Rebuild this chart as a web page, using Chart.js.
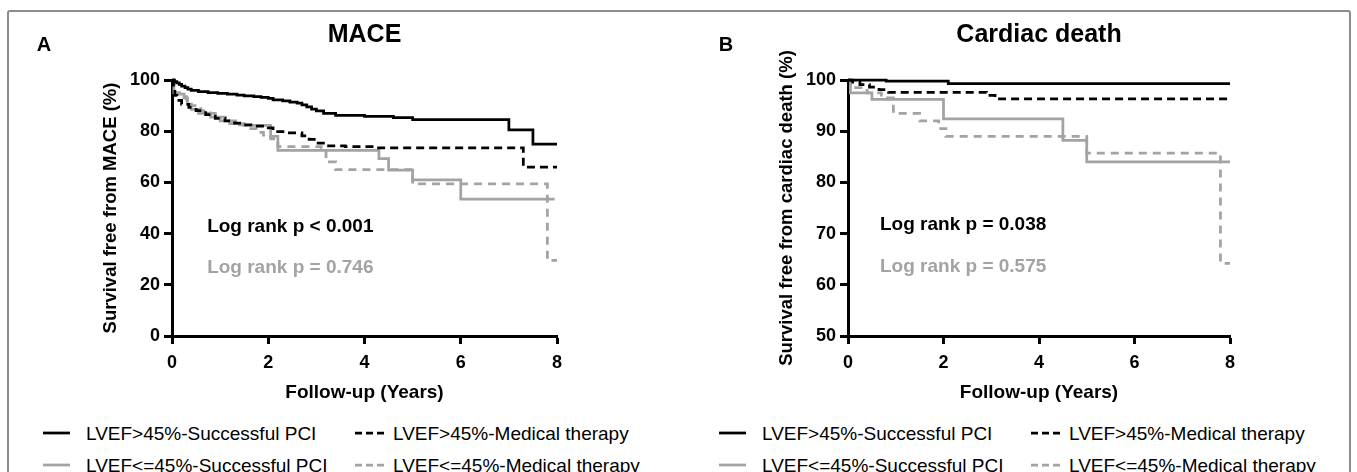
<!DOCTYPE html>
<html>
<head>
<meta charset="utf-8">
<script src="https://cdn.jsdelivr.net/npm/chart.js@4.4.0/dist/chart.umd.min.js"></script>
<style>
  html, body { margin: 0; padding: 0; background: #fff; width: 1357px; height: 472px; overflow: hidden; }
  body { position: relative; font-family: "Liberation Sans", Arial, sans-serif; }
  .frame { position: absolute; left: 7px; top: 10px; width: 1344px; height: 520px; box-sizing: border-box; border: 2px solid #8c8c8c; border-radius: 3px; }
  canvas { position: absolute; top: 0; }
  #chartA { left: 0; }
  #chartB { left: 676px; }
  .lg-sample { position: absolute; }
  .lg-text { position: absolute; font-size: 19px; line-height: 1; color: #000; white-space: nowrap; transform: translateY(-50%); }
</style>
</head>
<body>
<div class="frame"></div>
<canvas id="chartA" width="676" height="410"></canvas>
<canvas id="chartB" width="681" height="410"></canvas>
<div id="legendA"></div>
<div id="legendB"></div>
<script>
// series names, shared by both panels
const seriesLabels = [
  'LVEF>45%-Successful PCI',
  'LVEF>45%-Medical therapy',
  'LVEF<=45%-Successful PCI',
  'LVEF<=45%-Medical therapy'
];

// Panel A - MACE (years, survival %)
const maceYearsHiPci = [0, 0.05, 0.1, 0.15, 0.2, 0.27, 0.33, 0.4, 0.55, 0.75, 0.95, 1.15, 1.35, 1.5, 1.7, 1.85, 2.0, 2.1, 2.3, 2.45, 2.6, 2.7, 2.8, 2.9, 3.0, 3.15, 3.4, 4.0, 4.6, 5.0, 7.0, 7.5, 8.0];
const maceSurvHiPci  = [100, 99.4, 98.9, 98.3, 97.6, 97, 96.4, 95.9, 95.5, 95.1, 94.8, 94.5, 94.1, 93.8, 93.5, 93.2, 92.8, 92.2, 91.8, 91.4, 91.0, 90.3, 89.5, 88.6, 87.9, 87.0, 86.2, 85.8, 85.3, 84.5, 80.5, 75, 75];
const maceYearsHiMed = [0, 0.03, 0.06, 0.1, 0.2, 0.35, 0.5, 0.7, 0.9, 1.1, 1.3, 1.5, 1.7, 2.0, 2.1, 2.4, 2.7, 2.85, 3.0, 3.2, 3.6, 4.2, 7.3, 8.0];
const maceSurvHiMed  = [100, 97, 94, 92, 90.5, 89.3, 88, 86.5, 85, 84, 83.2, 82.5, 82, 81.3, 79.8, 79.3, 78.2, 76.8, 75.3, 74.3, 74, 73.5, 66, 66];
const maceYearsLoPci = [0, 0.04, 0.15, 0.25, 0.32, 0.4, 0.55, 0.8, 1.0, 1.2, 1.5, 2.05, 2.2, 4.3, 4.5, 5.0, 6.0, 7.95];
const maceSurvLoPci  = [100, 95, 94.5, 93, 90.5, 88.5, 87, 85.5, 84, 83, 82.3, 78, 72.5, 69.3, 64.8, 61, 53.5, 53.5];
const maceYearsLoMed = [0, 0.05, 0.2, 0.3, 0.4, 0.6, 0.8, 1.0, 1.2, 1.4, 1.6, 1.75, 1.9, 2.05, 2.2, 3.1, 3.2, 3.4, 5.0, 7.8, 8.0];
const maceSurvLoMed  = [100, 95, 93.5, 92.5, 90, 88, 87, 85.5, 84, 82.5, 81, 79.5, 78.5, 77, 74, 73.3, 68, 65, 59.4, 29.5, 29.5];
const maceLogRank = ['Log rank p < 0.001', 'Log rank p = 0.746'];

// Panel B - cardiac death
const cdYearsHiPci = [0, 0.8, 2.1, 8.0];
const cdSurvHiPci  = [100, 99.8, 99.3, 99.3];
const cdYearsHiMed = [0, 0.1, 0.25, 0.45, 0.65, 0.85, 2.9, 3.08, 8.0];
const cdSurvHiMed  = [100, 99.6, 99.1, 98.6, 98.1, 97.6, 97, 96.3, 96.3];
const cdYearsLoPci = [0, 0.05, 0.5, 2.0, 4.5, 5.0, 8.0];
const cdSurvLoPci  = [100, 97.5, 96.2, 92.4, 88.2, 84, 84];
const cdYearsLoMed = [0, 0.05, 0.4, 0.7, 0.95, 1.5, 1.9, 2.05, 5.0, 7.8, 8.0];
const cdSurvLoMed  = [100, 98.5, 97.5, 96.5, 93.5, 92, 90.5, 89, 85.7, 64.2, 64.2];
const cdLogRank = ['Log rank p = 0.038', 'Log rank p = 0.575'];

const FONT = '"Liberation Sans", Arial, sans-serif';
const BLACK = '#000000';
const GREY = '#a3a3a3';
const lineStyles = [
  { color: BLACK, dash: [] },
  { color: BLACK, dash: [8, 5] },
  { color: GREY, dash: [] },
  { color: GREY, dash: [8, 6] }
];

// letter, rotated y title and the log rank notes
const panelText = {
  id: 'panelText',
  afterDraw(chart, args, o) {
    const { ctx, chartArea, scales } = chart;
    ctx.save();
    ctx.fillStyle = BLACK;
    ctx.textAlign = 'center';
    ctx.textBaseline = 'middle';
    ctx.font = 'bold 20px ' + FONT;
    ctx.fillText(o.letter, o.letterX, o.letterY);
    ctx.font = 'bold 18.5px ' + FONT;
    ctx.translate(o.yTitleX, (chartArea.top + chartArea.bottom) / 2);
    ctx.rotate(-Math.PI / 2);
    ctx.fillText(o.yTitle, 0, 0);
    ctx.restore();

    ctx.save();
    ctx.font = 'bold 19px ' + FONT;
    ctx.textAlign = 'left';
    ctx.textBaseline = 'middle';
    o.notes.forEach((n, i) => {
      ctx.fillStyle = i === 0 ? BLACK : GREY;
      ctx.fillText(n, scales.x.getPixelForValue(o.noteX), scales.y.getPixelForValue(o.noteY[i]));
    });
    ctx.restore();
  }
};

function axisStyle() {
  return {
    grid: { display: true, drawOnChartArea: false, drawTicks: true, tickLength: 8, tickWidth: 3, tickColor: BLACK },
    border: { display: true, color: BLACK, width: 3 }
  };
}

function buildChart(id, cfg) {
  const datasets = cfg.series.map((s, i) => ({
    label: seriesLabels[i],
    data: s[0].map((t, k) => ({ x: t, y: s[1][k] })),
    borderColor: lineStyles[i].color,
    borderDash: lineStyles[i].dash,
    borderWidth: 2.75,
    stepped: 'before',
    pointRadius: 0,
    fill: false,
    clip: false
  }));

  return new Chart(document.getElementById(id), {
    type: 'line',
    data: { datasets },
    options: {
      responsive: false,
      animation: false,
      layout: { padding: { left: 0, right: cfg.padRight, top: 0, bottom: 0 } },
      plugins: {
        legend: { display: false },
        tooltip: { enabled: false },
        title: {
          display: true, text: cfg.title, fullSize: false, color: BLACK,
          font: { family: FONT, size: 25, weight: 'bold' },
          padding: { top: 20, bottom: 30 }
        },
        panelText: {
          letter: cfg.letter, letterX: cfg.letterX, letterY: 45,
          yTitle: cfg.yTitle, yTitleX: 111,
          notes: cfg.notes, noteX: cfg.noteX, noteY: cfg.noteY
        }
      },
      scales: {
        x: Object.assign(axisStyle(), {
          type: 'linear', min: 0, max: 8,
          ticks: { stepSize: 2, color: BLACK, padding: 8, font: { family: FONT, size: 18, weight: 'bold' } },
          title: {
            display: true, text: 'Follow-up (Years)', color: BLACK,
            font: { family: FONT, size: 19, weight: 'bold' },
            padding: { top: 8, bottom: 6 }
          },
          afterFit(s) { s.height = 74; }
        }),
        y: Object.assign(axisStyle(), {
          type: 'linear', min: cfg.yMin, max: 100,
          ticks: { stepSize: cfg.yStep, color: BLACK, padding: 4, font: { family: FONT, size: 18, weight: 'bold' } },
          afterFit(s) { s.width = 172; }
        })
      }
    },
    plugins: [panelText]
  });
}

buildChart('chartA', {
  title: 'MACE', letter: 'A', letterX: 44, yTitle: 'Survival free from MACE (%)',
  yMin: 0, yStep: 20, padRight: 119,
  series: [[maceYearsHiPci, maceSurvHiPci], [maceYearsHiMed, maceSurvHiMed], [maceYearsLoPci, maceSurvLoPci], [maceYearsLoMed, maceSurvLoMed]],
  notes: maceLogRank, noteX: 0.73, noteY: [42.6, 26.6]
});

buildChart('chartB', {
  title: 'Cardiac death', letter: 'B', letterX: 50, yTitle: 'Survival free from cardiac death (%)',
  yMin: 50, yStep: 10, padRight: 127,
  series: [[cdYearsHiPci, cdSurvHiPci], [cdYearsHiMed, cdSurvHiMed], [cdYearsLoPci, cdSurvLoPci], [cdYearsLoMed, cdSurvLoMed]],
  notes: cdLogRank, noteX: 0.67, noteY: [71.7, 63.5]
});

// HTML legend, two columns by two rows under each panel
function buildLegend(id, offsetX) {
  const host = document.getElementById(id);
  const rowsY = [433, 465];
  const cols = [{ sample: 43, text: 86 }, { sample: 355, text: 393 }];
  seriesLabels.forEach((label, i) => {
    const row = i < 2 ? 0 : 1;
    const col = i % 2;
    const st = lineStyles[i];
    const y = rowsY[row];
    const svg = document.createElementNS('http://www.w3.org/2000/svg', 'svg');
    svg.setAttribute('width', '29');
    svg.setAttribute('height', '6');
    svg.setAttribute('class', 'lg-sample');
    svg.style.left = (offsetX + cols[col].sample) + 'px';
    svg.style.top = (y - 3) + 'px';
    const ln = document.createElementNS('http://www.w3.org/2000/svg', 'line');
    ln.setAttribute('x1', '0'); ln.setAttribute('x2', col === 0 ? '27' : '29');
    ln.setAttribute('y1', '3'); ln.setAttribute('y2', '3');
    ln.setAttribute('stroke', st.color);
    ln.setAttribute('stroke-width', '2.75');
    if (st.dash.length) ln.setAttribute('stroke-dasharray', '7 4');
    svg.appendChild(ln);
    host.appendChild(svg);
    const span = document.createElement('span');
    span.className = 'lg-text';
    span.textContent = label;
    span.style.left = (offsetX + cols[col].text) + 'px';
    span.style.top = y + 'px';
    host.appendChild(span);
  });
}
buildLegend('legendA', 0);
buildLegend('legendB', 676);
</script>
</body>
</html>
